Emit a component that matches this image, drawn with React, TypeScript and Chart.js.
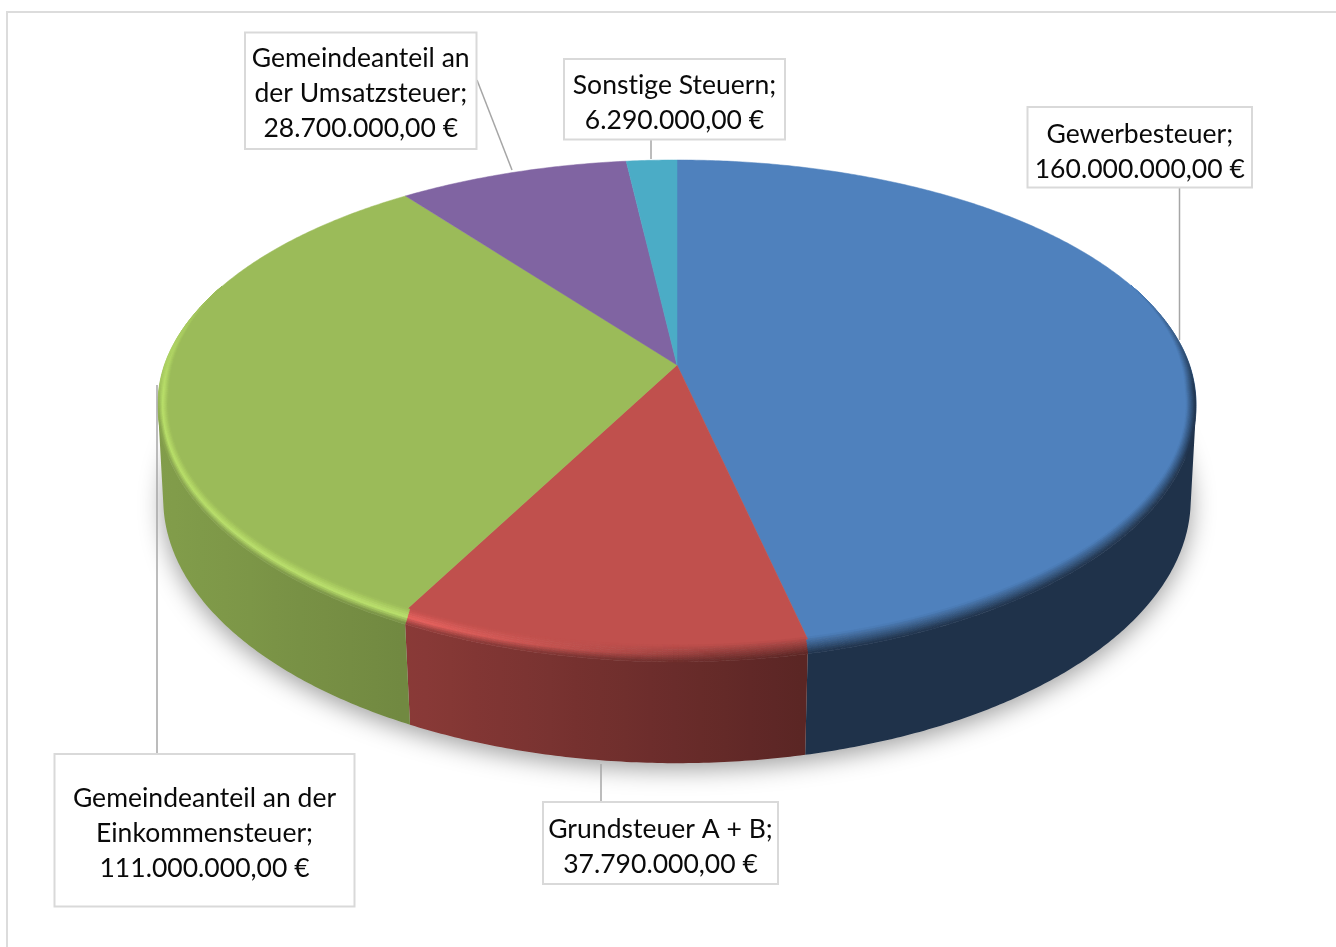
import React, { useEffect, useRef } from "react";
import { Chart, registerables } from "chart.js";

Chart.register(...registerables);

const categories = [
  "Gewerbesteuer",
  "Grundsteuer A + B",
  "Gemeindeanteil an der Einkommensteuer",
  "Gemeindeanteil an der Umsatzsteuer",
  "Sonstige Steuern",
];
const taxValues = [160000000, 37790000, 111000000, 28700000, 6290000];
const sliceColors = ["#4F81BD", "#C0504D", "#9BBB59", "#8064A2", "#4BACC6"];
const labelLines = [
  ["Gewerbesteuer;"],
  ["Grundsteuer A + B;"],
  ["Gemeindeanteil an der", "Einkommensteuer;"],
  ["Gemeindeanteil an", "der Umsatzsteuer;"],
  ["Sonstige Steuern;"],
];

// label box [left, top, right, bottom] and first text line centre y
const labelBoxes = [
  [1027.5, 107, 1252, 187.5, 134],
  [543, 802, 778, 884, 829],
  [54.5, 754, 354.5, 906.5, 798],
  [245, 32.5, 476.5, 149, 58],
  [564, 59, 785, 139.5, 85],
];
const leaderLines = [
  [1179.5, 188, 1179.5, 340],
  [601, 764, 601, 802],
  [157, 385, 157, 754],
  [477, 80, 512, 170],
  [651, 140, 651, 159],
];

const FACE = { cx: 677, cy: 365, a: 512.5, b: 237.4, k: 0.158 };
const BASE = { cx: 677, cy: 460, a: 508, b: 258, k: 0.149 };

type Pt = [number, number];
const project = (m: typeof FACE, ang: number): Pt => {
  const x = Math.cos(ang);
  const y = Math.sin(ang);
  const w = 1 - m.k * y;
  return [m.cx + (m.a * x) / w, m.cy + (m.b * y) / w];
};
const rgb = (hex: string) => [1, 3, 5].map((i) => parseInt(hex.slice(i, i + 2), 16));
const css = (c: number[]) => `rgb(${c.map((v) => Math.round(Math.min(255, v))).join(",")})`;
const mix = (a: number[], b: number[], t: number) => a.map((v, i) => v + (b[i] - v) * t);
const clamp = (v: number) => Math.max(0, Math.min(1, v));

// darkening of the side wall for a slice colour, by horizontal position
const wallShade = (i: number, X: number) => {
  if (i === 0) return 0.39;
  if (i === 1) return 0.72 + (0.47 - 0.72) * clamp((X - 410) / 395);
  if (i === 2) return 0.84 + (0.73 - 0.84) * clamp((X - 160) / 245);
  return 0.6;
};

const quad = (ctx: CanvasRenderingContext2D, p: Pt[], color: string) => {
  ctx.beginPath();
  ctx.moveTo(p[0][0], p[0][1]);
  for (let i = 1; i < p.length; i++) ctx.lineTo(p[i][0], p[i][1]);
  ctx.closePath();
  ctx.fillStyle = color;
  ctx.strokeStyle = color;
  ctx.lineWidth = 0.7;
  ctx.fill();
  ctx.stroke();
};

const pie3d = {
  id: "pie3d",
  beforeDatasetDraw(chart: any) {
    const ctx: CanvasRenderingContext2D = chart.ctx;
    const arcs = chart.getDatasetMeta(0).data;
    const step = Math.PI / 360;

    // soft floor shadow
    ctx.save();
    ctx.shadowColor = "rgba(0,0,0,0.38)";
    ctx.shadowBlur = 24;
    ctx.shadowOffsetY = 6;
    ctx.beginPath();
    for (let t = 0; t < Math.PI * 2; t += step * 2) {
      const q = project(BASE, t);
      ctx.lineTo(q[0], q[1]);
    }
    ctx.closePath();
    ctx.fillStyle = "#cccccc";
    ctx.fill();
    ctx.restore();

    const eased = (ang: number) => clamp((Math.sin(ang) + 0.35) / 0.45);
    const inner = (ang: number): Pt => {
      const p = project(FACE, ang);
      const e = eased(ang);
      return [p[0] - 10 * e * Math.cos(ang), p[1] - 2 * e * Math.sin(ang)];
    };
    const outer = (ang: number): Pt => {
      const p = project(FACE, ang);
      return [p[0], p[1] + 15 * Math.max(0, Math.sin(ang))];
    };
    const bevel = (ang: number, t: number): Pt => {
      const a = inner(ang);
      const b = outer(ang);
      return [a[0] + (b[0] - a[0]) * t, a[1] + (b[1] - a[1]) * t];
    };

    arcs.forEach((arc: any, i: number) => {
      const base = rgb(arc.options.backgroundColor);
      const n = Math.max(1, Math.ceil((arc.endAngle - arc.startAngle) / step));
      const da = (arc.endAngle - arc.startAngle) / n;

      // side wall: a sweep of quads in one path, shaded across its width
      const wallFrom = Math.max(arc.startAngle, 0);
      const wallTo = Math.min(arc.endAngle, Math.PI);
      if (wallTo > wallFrom) {
        const m = Math.ceil((wallTo - wallFrom) / step);
        const ang = (s: number) => wallFrom + ((wallTo - wallFrom) * s) / m;
        const grad = ctx.createLinearGradient(150, 0, 1200, 0);
        for (let g = 0; g <= 42; g++) {
          const X = 150 + (1050 * g) / 42;
          grad.addColorStop(g / 42, css(base.map((v) => v * wallShade(i, X))));
        }
        ctx.beginPath();
        for (let s = 0; s < m; s++) {
          const c: Pt[] = [outer(ang(s)), outer(ang(s + 1)), project(BASE, ang(s + 1)), project(BASE, ang(s))];
          let area = 0;
          c.forEach((p, j) => {
            const r = c[(j + 1) % 4];
            area += p[0] * r[1] - r[0] * p[1];
          });
          if (area < 0) c.reverse();
          ctx.moveTo(c[0][0], c[0][1]);
          for (let j = 1; j < 4; j++) ctx.lineTo(c[j][0], c[j][1]);
          ctx.closePath();
        }
        ctx.fillStyle = grad;
        ctx.fill("nonzero");
      }

      // flat top
      ctx.beginPath();
      ctx.moveTo(FACE.cx, FACE.cy);
      for (let s = 0; s <= n; s++) {
        const q = project(FACE, arc.startAngle + s * da);
        ctx.lineTo(q[0], q[1]);
      }
      ctx.closePath();
      ctx.fillStyle = css(base);
      ctx.strokeStyle = css(base);
      ctx.lineWidth = 0.5;
      ctx.fill();
      ctx.stroke();

      // rounded rim between the top and the wall
      const bands = 8;
      for (let s = 0; s < n; s++) {
        const a0 = arc.startAngle + s * da;
        const a1 = a0 + da;
        const e = eased(a0 + da / 2);
        if (e <= 0) continue;
        const X = project(FACE, a0)[0];
        const hl = clamp((720 - X) / 300);
        const wall = base.map((v) => v * wallShade(i, X));
        const peak = base.map((v) => v * 1.2);
        const edge = clamp(Math.sin(a0) / 0.3 + 0.2);
        for (let b = 0; b < bands; b++) {
          const t0 = b / bands;
          const t1 = (b + 1) / bands;
          const tm = (t0 + t1) / 2;
          const plain = mix(base, wall, tm * e);
          const lit =
            tm < 0.55
              ? mix(base, peak, (tm / 0.55) * e)
              : mix(mix(base, peak, e), wall, ((tm - 0.55) / 0.45) * e * edge);
          quad(ctx, [bevel(a0, t0), bevel(a1, t0), bevel(a1, t1), bevel(a0, t1)], css(mix(plain, lit, hl)));
        }
      }
    });
    return false;
  },
  afterDatasetsDraw(chart: any) {
    const ctx: CanvasRenderingContext2D = chart.ctx;
    const values: number[] = chart.data.datasets[0].data;
    ctx.save();
    // frame: only the top and left edges fall inside the picture
    ctx.strokeStyle = "#dcdcdc";
    ctx.lineWidth = 2;
    ctx.beginPath();
    ctx.moveTo(7, 947);
    ctx.lineTo(7, 12);
    ctx.lineTo(1336, 12);
    ctx.stroke();
    // leaders
    ctx.strokeStyle = "#a6a6a6";
    ctx.lineWidth = 1.5;
    leaderLines.forEach(([x0, y0, x1, y1]) => {
      ctx.beginPath();
      ctx.moveTo(x0, y0);
      ctx.lineTo(x1, y1);
      ctx.stroke();
    });
    // labels
    values.forEach((v, i) => {
      const [l, t, r, b, first] = labelBoxes[i];
      ctx.fillStyle = "#ffffff";
      ctx.fillRect(l, t, r - l, b - t);
      ctx.strokeStyle = "#d9d9d9";
      ctx.lineWidth = 2;
      ctx.strokeRect(l, t, r - l, b - t);
      const money =
        v.toLocaleString("de-DE", { minimumFractionDigits: 2, maximumFractionDigits: 2 }) + " €";
      const lines = [...labelLines[i], money];
      ctx.fillStyle = "#0a0a0a";
      ctx.font = "26.5px Lato";
      (ctx as any).letterSpacing = "0.02px";
      ctx.textAlign = "center";
      ctx.textBaseline = "middle";
      lines.forEach((s, j) => ctx.fillText(s, (l + r) / 2, first + j * 35.2));
    });
    ctx.restore();
  },
};

export default function App() {
  const ref = useRef<HTMLCanvasElement>(null);
  useEffect(() => {
    const chart = new Chart(ref.current as HTMLCanvasElement, {
      type: "pie",
      data: {
        labels: categories,
        datasets: [{ data: taxValues, backgroundColor: sliceColors, borderWidth: 0 }],
      },
      options: {
        animation: false,
        responsive: false,
        plugins: { legend: { display: false }, tooltip: { enabled: false } },
      },
      plugins: [pie3d],
    } as any);
    return () => chart.destroy();
  }, []);
  return (
    <div style={{ position: "fixed", left: 0, top: 0, width: 1336, height: 947, background: "#fff" }}>
      <canvas ref={ref} width={1336} height={947} style={{ display: "block" }} />
    </div>
  );
}
